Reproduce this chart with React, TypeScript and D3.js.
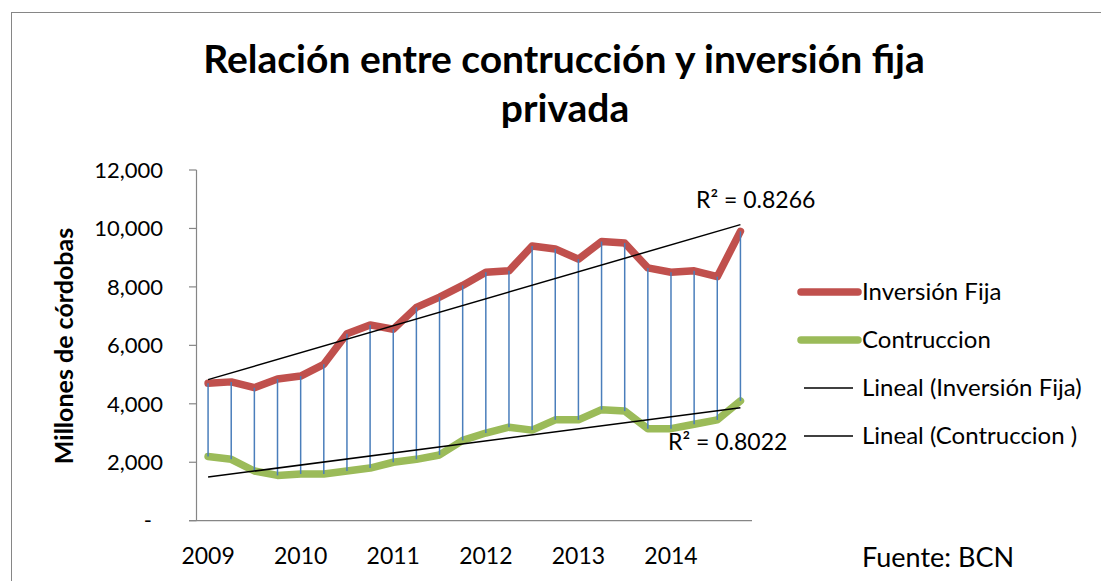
import React from "react";
import * as d3 from "d3";

const quarters: string[] = [
  "2009-1", "2009-2", "2009-3", "2009-4",
  "2010-1", "2010-2", "2010-3", "2010-4",
  "2011-1", "2011-2", "2011-3", "2011-4",
  "2012-1", "2012-2", "2012-3", "2012-4",
  "2013-1", "2013-2", "2013-3", "2013-4",
  "2014-1", "2014-2", "2014-3", "2014-4",
];

const inversionFija: number[] = [
  4700, 4750, 4550, 4850, 4950, 5350, 6400, 6700,
  6550, 7300, 7650, 8050, 8500, 8550, 9400, 9300,
  8950, 9550, 9500, 8650, 8500, 8550, 8350, 9900,
];

const contruccion: number[] = [
  2200, 2100, 1700, 1550, 1600, 1600, 1700, 1800,
  2000, 2100, 2250, 2750, 3000, 3200, 3100, 3450,
  3450, 3800, 3750, 3150, 3150, 3300, 3450, 4100,
];

const yTicks: number[] = [0, 2000, 4000, 6000, 8000, 10000, 12000];
const yTickLabels: string[] = ["-", "2,000", "4,000", "6,000", "8,000", "10,000", "12,000"];
const r2Labels: string[] = ["R² = 0.8266", "R² = 0.8022"];
const legendLabels: string[] = [
  "Inversión Fija",
  "Contruccion",
  "Lineal (Inversión Fija)",
  "Lineal (Contruccion )",
];

const FONT = "Lato, 'Open Sans', sans-serif";
const RED = "#C0504D";
const GREEN = "#9BBB59";
const BLUE = "#4A7EBB";
const AXIS = "#868686";

function linReg(vals: number[]) {
  const n = vals.length;
  const xs = vals.map((_, i) => i);
  const mx = d3.mean(xs) as number;
  const my = d3.mean(vals) as number;
  let num = 0;
  let den = 0;
  for (let i = 0; i < n; i++) {
    num += (xs[i] - mx) * (vals[i] - my);
    den += (xs[i] - mx) * (xs[i] - mx);
  }
  const b = num / den;
  const a = my - b * mx;
  return (i: number) => a + b * i;
}

export default function App() {
  const W = 1101;
  const H = 581;
  const left = 196.5;
  const right = 752;
  const top = 170;
  const bottom = 520.7;

  const x = d3.scaleBand<string>().domain(quarters).range([left, right]).padding(0);
  const cx = (i: number) => (x(quarters[i]) as number) + x.bandwidth() / 2;
  const y = d3.scaleLinear().domain([0, 12000]).range([bottom, top]);

  const line = d3
    .line<number>()
    .x((_, i) => cx(i))
    .y((d) => y(d));

  const regI = linReg(inversionFija);
  const regC = linReg(contruccion);
  const n = quarters.length;

  const legendY = [292, 340, 388, 436];

  return (
    <div style={{ position: "absolute", left: 0, top: 0 }}>
      <svg width={W} height={H} style={{ display: "block", background: "#fff" }}>
        <rect x={11.5} y={12.5} width={1200} height={700} fill="#fff" stroke={AXIS} strokeWidth={1} />
        {/* Title */}
        <text x={564} y={73} textAnchor="middle" fontFamily={FONT} fontWeight="bold" fontSize={39} fill="#000">
          Relación entre contrucción y inversión fija
        </text>
        <text x={565} y={122} textAnchor="middle" fontFamily={FONT} fontWeight="bold" fontSize={39} fill="#000">
          privada
        </text>

        {/* Y axis */}
        <line x1={left} x2={left} y1={top} y2={bottom} stroke={AXIS} strokeWidth={1.2} />
        {yTicks.map((t, i) => (
          <g key={t}>
            <line x1={189} x2={left} y1={y(t)} y2={y(t)} stroke={AXIS} strokeWidth={1.2} />
            <text
              x={yTickLabels[i] === "-" ? 152 : 163}
              y={y(t)}
              dy="0.35em"
              textAnchor="end"
              fontFamily={FONT}
              fontSize={22}
              fill="#000"
            >
              {yTickLabels[i]}
            </text>
          </g>
        ))}
        {/* X axis */}
        <line x1={189} x2={right} y1={bottom} y2={bottom} stroke={AXIS} strokeWidth={1.2} />
        {quarters.map((q, i) =>
          q.endsWith("-1") ? (
            <text key={q} x={cx(i)} y={564} textAnchor="middle" fontFamily={FONT} fontSize={23} fill="#000">
              {q.slice(0, 4)}
            </text>
          ) : null
        )}

        {/* Y axis title */}
        <text
          transform={`translate(73,346) rotate(-90)`}
          textAnchor="middle"
          fontFamily={FONT}
          fontWeight="bold"
          fontSize={25}
          fill="#000"
        >
          Millones de córdobas
        </text>

        {/* Series */}
        <path d={line(inversionFija) as string} fill="none" stroke={RED} strokeWidth={7.5} strokeLinejoin="round" strokeLinecap="round" />
        <path d={line(contruccion) as string} fill="none" stroke={GREEN} strokeWidth={7.5} strokeLinejoin="round" strokeLinecap="round" />

        {/* High-low lines */}
        {quarters.map((q, i) => (
          <line key={q} x1={cx(i)} x2={cx(i)} y1={y(inversionFija[i])} y2={y(contruccion[i])} stroke={BLUE} strokeWidth={1.5} />
        ))}

        {/* Trendlines */}
        <line x1={cx(0)} x2={cx(n - 1)} y1={y(regI(0))} y2={y(regI(n - 1))} stroke="#000" strokeWidth={1.5} />
        <line x1={cx(0)} x2={cx(n - 1)} y1={y(regC(0))} y2={y(regC(n - 1))} stroke="#000" strokeWidth={1.5} />

        {/* R2 labels */}
        <text x={696} y={208} fontFamily={FONT} fontSize={23} fill="#000">{r2Labels[0]}</text>
        <text x={668} y={450} fontFamily={FONT} fontSize={23} fill="#000">{r2Labels[1]}</text>

        {/* Legend */}
        <line x1={801} x2={858} y1={legendY[0]} y2={legendY[0]} stroke={RED} strokeWidth={7.5} strokeLinecap="round" />
        <line x1={801} x2={858} y1={legendY[1]} y2={legendY[1]} stroke={GREEN} strokeWidth={7.5} strokeLinecap="round" />
        <line x1={804} x2={853} y1={legendY[2]} y2={legendY[2]} stroke="#000" strokeWidth={1.5} />
        <line x1={804} x2={853} y1={legendY[3]} y2={legendY[3]} stroke="#000" strokeWidth={1.5} />
        {legendLabels.map((l, i) => (
          <text key={l} x={862} y={legendY[i]} dy="0.35em" fontFamily={FONT} fontSize={24} fill="#000">
            {l}
          </text>
        ))}

        <text x={862} y={567} fontFamily={FONT} fontSize={27} fill="#000">Fuente: BCN</text>
      </svg>
    </div>
  );
}
